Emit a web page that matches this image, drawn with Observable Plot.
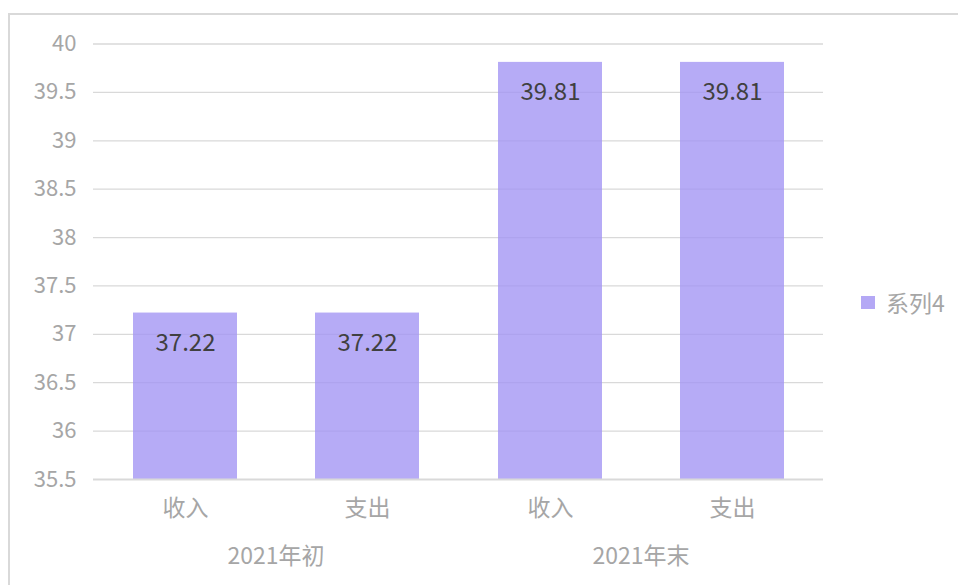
<!DOCTYPE html>
<html>
<head>
<meta charset="utf-8">
<script src="https://cdn.jsdelivr.net/npm/d3@7"></script>
<script src="https://cdn.jsdelivr.net/npm/@observablehq/plot@0.6"></script>
<style>
  html, body { margin: 0; padding: 0; background: #fff; }
  body { width: 958px; height: 585px; position: relative; overflow: hidden;
         font-family: "Noto Sans CJK SC", "Noto Sans", sans-serif; }
  #frame { position: absolute; left: 8px; top: 13px; width: 1000px; height: 700px;
           border: 2px solid #d9d9d9; box-sizing: border-box; }
  #chart { position: absolute; left: 0; top: 0; }
  #legend { position: absolute; left: 861px; top: 285px; display: flex; align-items: center;
            font-size: 23px; color: #a6a6a6; }
  #legend .sw { width: 14px; height: 13px; background: #b4a8f5; margin-right: 11px; }
</style>
</head>
<body>
<div id="frame"></div>
<div id="chart"></div>
<div id="legend"><div class="sw"></div><span>系列4</span></div>
<script>
const groups = ["2021年初", "2021年初", "2021年末", "2021年末"];
const categories = ["收入", "支出", "收入", "支出"];
const values = [37.22, 37.22, 39.81, 39.81];
const seriesName = "系列4";
const yTicks = [35.5, 36, 36.5, 37, 37.5, 38, 38.5, 39, 39.5, 40];

const data = values.map((v, i) => ({group: groups[i], cat: categories[i], value: v}));
const baseline = 35.5;

const chart = Plot.plot({
  width: 958,
  height: 585,
  marginLeft: 93,
  marginRight: 135,
  marginTop: 43.5,
  marginBottom: 106,
  style: {fontFamily: '"Noto Sans CJK SC", "Noto Sans", sans-serif', background: "transparent"},
  fx: {domain: ["2021年初", "2021年末"], padding: 0, label: null},
  x: {domain: ["收入", "支出"], paddingInner: 0.43, paddingOuter: 0.215, label: null},
  y: {domain: [35.5, 40], label: null},
  marks: [
    Plot.ruleY(yTicks.filter(d => d !== baseline), {stroke: "#d9d9d9", strokeWidth: 1.3}),
    Plot.barY(data, {fx: "group", x: "cat", y1: baseline, y2: "value", fill: "#a193f3", fillOpacity: 0.78}),
    Plot.ruleY([baseline], {stroke: "#d9d9d9", strokeWidth: 2}),
    Plot.text(data, {fx: "group", x: "cat", y: "value", text: d => d.value.toFixed(2), dy: 30,
      fontSize: 24, fill: "#404040", textAnchor: "middle", lineAnchor: "middle"}),
    Plot.axisY(yTicks, {tickSize: 0, tickPadding: 17, tickFormat: d => String(d), fontSize: 22, color: "#a6a6a6", label: null}),
    Plot.axisX({anchor: "bottom", tickSize: 0, tickPadding: 20, fontSize: 23, color: "#a6a6a6", label: null}),
    Plot.axisFx({anchor: "bottom", tickSize: 0, tickPadding: 68, fontSize: 23, color: "#a6a6a6", label: null})
  ]
});
document.getElementById("chart").append(chart);
</script>
</body>
</html>
